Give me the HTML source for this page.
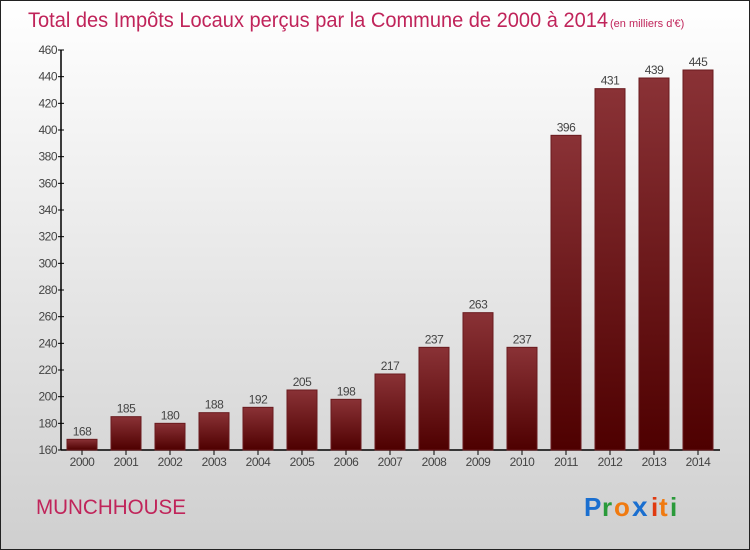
<!DOCTYPE html>
<html><head><meta charset="utf-8"><style>
html,body{margin:0;padding:0}
body{width:750px;height:550px;overflow:hidden;font-family:"Liberation Sans",sans-serif}
#frame{position:absolute;left:0;top:0;width:748px;height:548px;border:1px solid #222;background:linear-gradient(#ffffff,#cfcfcf)}
</style></head><body>
<div id="frame">
<svg width="750" height="550" style="position:absolute;left:-1px;top:-1px">
<defs>
<linearGradient id="bg" x1="0" y1="0" x2="0" y2="1"><stop offset="0" stop-color="#8a3236"/><stop offset="1" stop-color="#4e0000"/></linearGradient>
</defs>
<text x="28" y="27" font-size="21" fill="#c0245a" textLength="580" lengthAdjust="spacingAndGlyphs">Total des Impôts Locaux perçus par la Commune de 2000 à 2014</text>
<text x="610" y="27" font-size="11" fill="#c0245a">(en milliers d'€)</text>
<g id="axes"></g>
<g id="bars"></g>
<text x="36" y="514" font-size="21" fill="#c0245a" textLength="150" lengthAdjust="spacingAndGlyphs">MUNCHHOUSE</text>
<g font-size="26" font-weight="bold" font-family="'Liberation Sans',sans-serif">
<text x="584" y="516" fill="#1a6fd0">P</text><text x="602" y="516" fill="#2a9a3a">r</text><text x="614" y="516" fill="#f07a10">o</text><text x="632" y="516" fill="#1a6fd0" font-size="28">x</text><text x="651" y="516" fill="#e03a10">i</text><text x="659" y="516" fill="#f07a10">t</text><text x="670" y="516" fill="#2a9a3a">i</text>
</g>
</svg>
</div>
<script>
const years=["2000","2001","2002","2003","2004","2005","2006","2007","2008","2009","2010","2011","2012","2013","2014"];
const values=[168,185,180,188,192,205,198,217,237,263,237,396,431,439,445];
const ticks=[160,180,200,220,240,260,280,300,320,340,360,380,400,420,440,460];
const NS="http://www.w3.org/2000/svg";
const y0=450,y1=50,vmin=160,vmax=460;
function y(v){return y0-(v-vmin)*(y0-y1)/(vmax-vmin);}
function xc(i){return 82+i*44;}
function mk(t,a,p){const e=document.createElementNS(NS,t);for(const k in a)e.setAttribute(k,a[k]);p.appendChild(e);return e;}
const ax=document.getElementById('axes'),bg=document.getElementById('bars');
const yl=mk('line',{x1:61,y1:50,x2:61,y2:450,stroke:'#000','stroke-width':1.5},ax);


const xl=mk('line',{x1:61,y1:450,x2:720,y2:450,stroke:'#000','stroke-width':1.5},ax);


ticks.forEach(t=>{
 mk('line',{x1:58,x2:64,y1:y(t),y2:y(t),stroke:'#000'},ax);
 const tx=mk('text',{x:57,y:y(t)+4,'font-size':12,'text-anchor':'end',fill:'#444','letter-spacing':'-0.5'},ax);
 tx.textContent=t;
 
 
});
years.forEach((yr,i)=>{
 const v=values[i];
 const r=mk('rect',{x:xc(i)-15,y:y(v),width:30,height:y0-y(v),fill:'url(#bg)',stroke:'#6a1a1e','stroke-width':1},bg);
 
 
 mk('line',{x1:xc(i),x2:xc(i),y1:450,y2:455,stroke:'#000'},ax);
 const l=mk('text',{x:xc(i),y:466,'font-size':12,'text-anchor':'middle',fill:'#444','letter-spacing':'-0.5'},ax);
 l.textContent=yr;
 
 
 const vl=mk('text',{x:xc(i),y:y(v)-4,'font-size':12,'text-anchor':'middle',fill:'#444','letter-spacing':'-0.5'},bg);
 vl.textContent=v;
 
 
});
</script>
</body></html>
